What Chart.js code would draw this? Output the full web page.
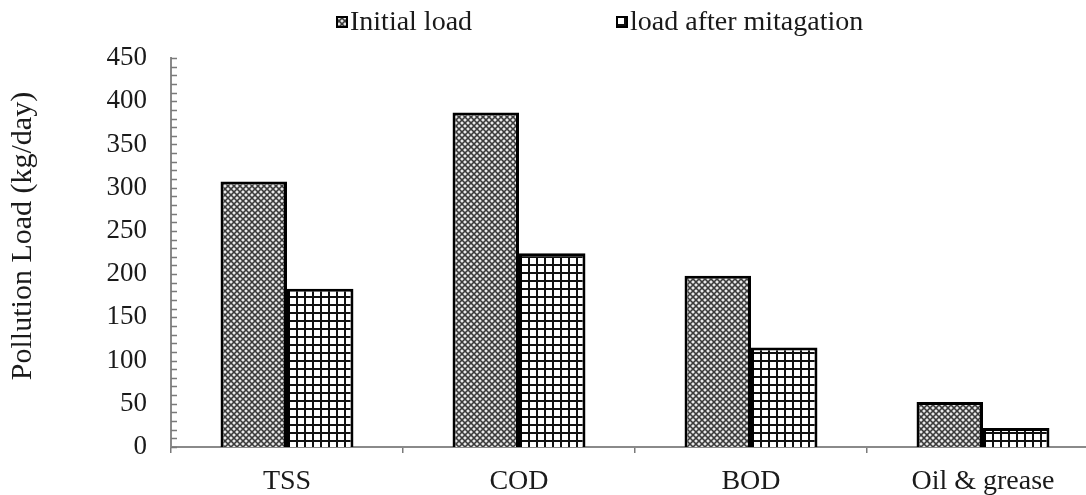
<!DOCTYPE html>
<html>
<head>
<meta charset="utf-8">
<script src="https://cdn.jsdelivr.net/npm/chart.js@4/dist/chart.umd.min.js"></script>
<style>
  html, body { margin: 0; padding: 0; background: #fff; overflow: hidden; }
  #wrap { width: 1102px; height: 495px; position: relative; }
</style>
</head>
<body>
<div id="wrap"><canvas id="c" width="1102" height="495"></canvas></div>
<script>
const categories = ['TSS', 'COD', 'BOD', 'Oil & grease'];
const initialLoad = [307, 387, 198, 52];
const afterMitigation = [183, 224, 115, 22];
const seriesNames = ['Initial load', 'load after mitagation'];
const yTitle = 'Pollution Load (kg/day)';
const yMin = 0, yMax = 450, yStep = 50, yMinorStep = 10;

const FONT = '"Liberation Serif", "Times New Roman", serif';

function makeCrossPattern() {
  const t = document.createElement('canvas');
  t.width = 6; t.height = 6;
  const c = t.getContext('2d');
  c.fillStyle = '#b8b8b8';
  c.fillRect(0, 0, 6, 6);
  c.strokeStyle = '#3a3a3a';
  c.lineWidth = 1.3;
  c.beginPath();
  c.moveTo(-1, -1); c.lineTo(7, 7);
  c.moveTo(7, -1); c.lineTo(-1, 7);
  c.stroke();
  c.fillStyle = '#ffffff';
  [[3, 0], [0, 3], [6, 3], [3, 6]].forEach(([x, y]) => {
    c.beginPath(); c.arc(x, y, 0.9, 0, Math.PI * 2); c.fill();
  });
  return c.createPattern(t, 'repeat');
}
function makeGridPattern() {
  const t = document.createElement('canvas');
  t.width = 8; t.height = 8;
  const c = t.getContext('2d');
  c.fillStyle = '#ffffff';
  c.fillRect(0, 0, 8, 8);
  c.fillStyle = '#111111';
  c.fillRect(0, 0, 8, 2);
  c.fillRect(0, 0, 2, 8);
  return c.createPattern(t, 'repeat');
}
const crossPat = makeCrossPattern();
const gridPat = makeGridPattern();
const patterns = [crossPat, gridPat];

const minorTicks = {
  id: 'minorTicks',
  afterDraw(chart) {
    const y = chart.scales.y;
    const ctx = chart.ctx;
    const x0 = chart.chartArea.left;
    ctx.save();
    ctx.strokeStyle = '#7a7a7a';
    ctx.lineWidth = 1.5;
    ctx.beginPath();
    for (let v = yMin; v <= yMax; v += yMinorStep) {
      const py = Math.round(y.getPixelForValue(v)) + 0.5;
      ctx.moveTo(x0, py);
      ctx.lineTo(x0 + 6, py);
    }
    ctx.stroke();
    ctx.restore();
  }
};

const yTitlePlugin = {
  id: 'yTitlePlugin',
  afterDraw(chart) {
    const ctx = chart.ctx;
    ctx.save();
    ctx.font = '30px ' + FONT;
    ctx.fillStyle = '#1a1a1a';
    ctx.textAlign = 'center';
    ctx.textBaseline = 'middle';
    ctx.translate(23, 236);
    ctx.rotate(-Math.PI / 2);
    ctx.fillText(yTitle, 0, 0);
    ctx.restore();
  }
};

const customLegend = {
  id: 'customLegend',
  afterDraw(chart) {
    const ctx = chart.ctx;
    const items = [
      { x: 336, label: seriesNames[0], pat: patterns[0] },
      { x: 616, label: seriesNames[1], pat: patterns[1] }
    ];
    ctx.save();
    ctx.font = '28px ' + FONT;
    ctx.textBaseline = 'middle';
    items.forEach(it => {
      const by = 16, bs = 12;
      ctx.fillStyle = it.pat;
      ctx.fillRect(it.x, by, bs, bs);
      ctx.strokeStyle = '#000';
      ctx.lineWidth = 2;
      ctx.strokeRect(it.x + 1, by + 1, bs - 2, bs - 2);
      ctx.fillStyle = '#1a1a1a';
      ctx.fillText(it.label, it.x + bs + 2, 23);
    });
    ctx.restore();
  }
};

new Chart(document.getElementById('c'), {
  type: 'bar',
  data: {
    labels: categories,
    datasets: [
      {
        label: seriesNames[0],
        data: initialLoad,
        backgroundColor: crossPat,
        borderColor: '#000',
        borderWidth: 3,
        borderSkipped: 'bottom'
      },
      {
        label: seriesNames[1],
        data: afterMitigation,
        backgroundColor: gridPat,
        borderColor: '#000',
        borderWidth: 3,
        borderSkipped: 'bottom'
      }
    ]
  },
  options: {
    responsive: false,
    animation: false,
    events: [],
    layout: { padding: { top: 58, right: 3, left: 0, bottom: 0 } },
    datasets: { bar: { categoryPercentage: 0.573, barPercentage: 1.0 } },
    plugins: {
      legend: { display: false },
      tooltip: { enabled: false }
    },
    scales: {
      x: {
        offset: true,
        grid: {
          offset: true,
          drawOnChartArea: false,
          drawTicks: true,
          tickLength: 6,
          color: '#7a7a7a',
          lineWidth: 1.5
        },
        border: { color: '#8a8a8a', width: 2 },
        ticks: {
          color: '#1a1a1a',
          font: { family: FONT, size: 28 },
          padding: 12,
          maxRotation: 0
        },
        afterFit(scale) { scale.height = 48; }
      },
      y: {
        min: yMin,
        max: yMax,
        grid: { display: false, drawTicks: false },
        border: { color: '#8a8a8a', width: 2 },
        ticks: {
          stepSize: yStep,
          color: '#1a1a1a',
          font: { family: FONT, size: 27 },
          padding: 24
        },
        title: { display: false, text: yTitle },
        afterFit(scale) { scale.width = 171; }
      }
    }
  },
  plugins: [minorTicks, yTitlePlugin, customLegend]
});
</script>
</body>
</html>
